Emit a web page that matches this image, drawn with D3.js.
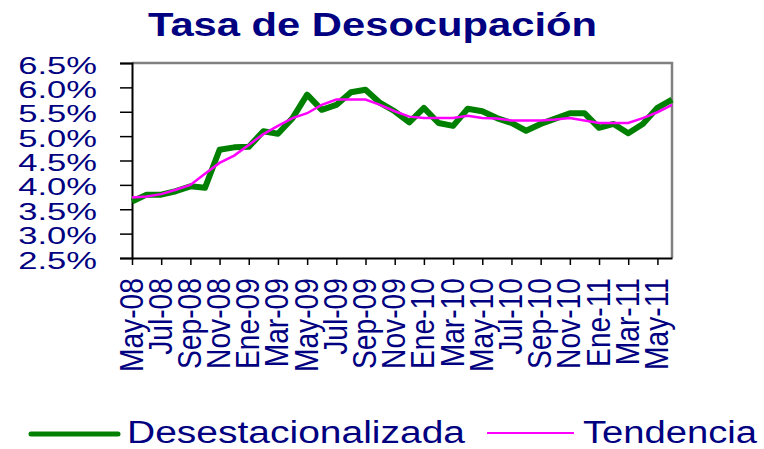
<!DOCTYPE html>
<html>
<head>
<meta charset="utf-8">
<script src="https://cdn.jsdelivr.net/npm/d3@7"></script>
<style>
  body { margin: 0; background: #fff; }
  text { font-family: Arial, "Liberation Sans", sans-serif; fill: #000080; }
</style>
</head>
<body>
<svg id="svg" width="764" height="449"></svg>
<script>
// months (May-08 .. Jun-11)
var months = ["May-08","Jun-08","Jul-08","Ago-08","Sep-08","Oct-08","Nov-08","Dic-08",
  "Ene-09","Feb-09","Mar-09","Abr-09","May-09","Jun-09","Jul-09","Ago-09","Sep-09","Oct-09","Nov-09","Dic-09",
  "Ene-10","Feb-10","Mar-10","Abr-10","May-10","Jun-10","Jul-10","Ago-10","Sep-10","Oct-10","Nov-10","Dic-10",
  "Ene-11","Feb-11","Mar-11","Abr-11","May-11","Jun-11"];

// tasa desestacionalizada (%)
var desest = [3.66,3.80,3.80,3.87,3.97,3.94,4.72,4.77,4.78,5.10,5.05,5.37,5.85,5.54,5.64,5.90,5.95,5.68,
  5.51,5.28,5.58,5.27,5.21,5.56,5.51,5.37,5.27,5.11,5.25,5.36,5.47,5.47,5.17,5.25,5.06,5.25,5.58,5.75];

// tendencia (%)
var tendencia = [3.74,3.76,3.81,3.90,4.00,4.23,4.45,4.60,4.82,5.04,5.21,5.37,5.47,5.64,5.75,5.75,5.75,5.64,
  5.51,5.40,5.37,5.37,5.37,5.42,5.37,5.36,5.32,5.32,5.32,5.34,5.37,5.32,5.27,5.27,5.27,5.37,5.49,5.64];

var yTicks = [2.5,3.0,3.5,4.0,4.5,5.0,5.5,6.0,6.5];

var svg = d3.select("#svg");
var plot = {left:132, right:672, top:63, bottom:258};

var xScale = d3.scalePoint().domain(months).range([plot.left, plot.right]);
var yScale = d3.scaleLinear().domain([2.5, 6.5]).range([plot.bottom, plot.top]);

//title
svg.append("text")
  .attr("x", 148).attr("y", 36)
  .attr("textLength", 449).attr("lengthAdjust", "spacingAndGlyphs")
  .style("font-size", "33px").style("font-weight", "bold")
  .text("Tasa de Desocupación");

//frame top/right (gray)
svg.append("path")
  .attr("d", "M" + plot.left + "," + plot.top + "H" + plot.right + "V" + plot.bottom)
  .attr("fill", "none").attr("stroke", "#808080").attr("stroke-width", 2.5);

//yAxis
var yAxis = svg.append("g")
  .attr("transform", "translate(" + plot.left + ",0)")
  .call(d3.axisLeft(yScale).tickValues(yTicks).tickSize(12).tickFormat(function(d){ return d.toFixed(1) + "%"; }));
yAxis.select(".domain").attr("stroke", "#000").attr("stroke-width", 2);
yAxis.selectAll(".tick line").attr("stroke", "#000").attr("stroke-width", 1.5);
yAxis.selectAll(".tick text")
  .attr("x", null).attr("dy", null)
  .attr("text-anchor", "end")
  .attr("transform", "translate(-35,10) scale(1.44,1)")
  .style("font-size", "24px").style("fill", "#000080");

//xAxis
var labelMonths = months.filter(function(d, i){ return i % 2 === 0; });
var xAxis = svg.append("g")
  .attr("transform", "translate(0," + plot.bottom + ")")
  .call(d3.axisBottom(xScale).tickValues(labelMonths).tickSize(7).tickSizeOuter(0));
xAxis.select(".domain").attr("stroke", "#000").attr("stroke-width", 2);
xAxis.selectAll(".tick line").attr("stroke", "#000").attr("stroke-width", 1.5);
xAxis.selectAll(".tick text")
  .attr("x", null).attr("y", null).attr("dy", null)
  .attr("text-anchor", "end")
  .attr("transform", "translate(10,20) rotate(-90) scale(0.83,1)")
  .style("font-size", "34px").style("fill", "#000080");

//lines
var line = d3.line()
  .x(function(d, i){ return xScale(months[i]); })
  .y(function(d){ return yScale(d); });

svg.append("path").datum(desest)
  .attr("d", line).attr("fill", "none")
  .attr("stroke", "#008000").attr("stroke-width", 6).attr("stroke-linejoin", "round");

svg.append("path").datum(tendencia)
  .attr("d", line).attr("fill", "none")
  .attr("stroke", "#FF00FF").attr("stroke-width", 2.5);

//legend
var legend = svg.append("g");
legend.append("line").attr("x1", 31).attr("x2", 118).attr("y1", 434).attr("y2", 434)
  .attr("stroke", "#008000").attr("stroke-width", 5).attr("stroke-linecap", "round");
legend.append("text").attr("x", 127).attr("y", 443)
  .attr("textLength", 338).attr("lengthAdjust", "spacingAndGlyphs")
  .style("font-size", "31px").text("Desestacionalizada");
legend.append("line").attr("x1", 487).attr("x2", 574).attr("y1", 433).attr("y2", 433)
  .attr("stroke", "#FF00FF").attr("stroke-width", 2);
legend.append("text").attr("x", 583).attr("y", 443)
  .attr("textLength", 174).attr("lengthAdjust", "spacingAndGlyphs")
  .style("font-size", "31px").text("Tendencia");
</script>
</body>
</html>
